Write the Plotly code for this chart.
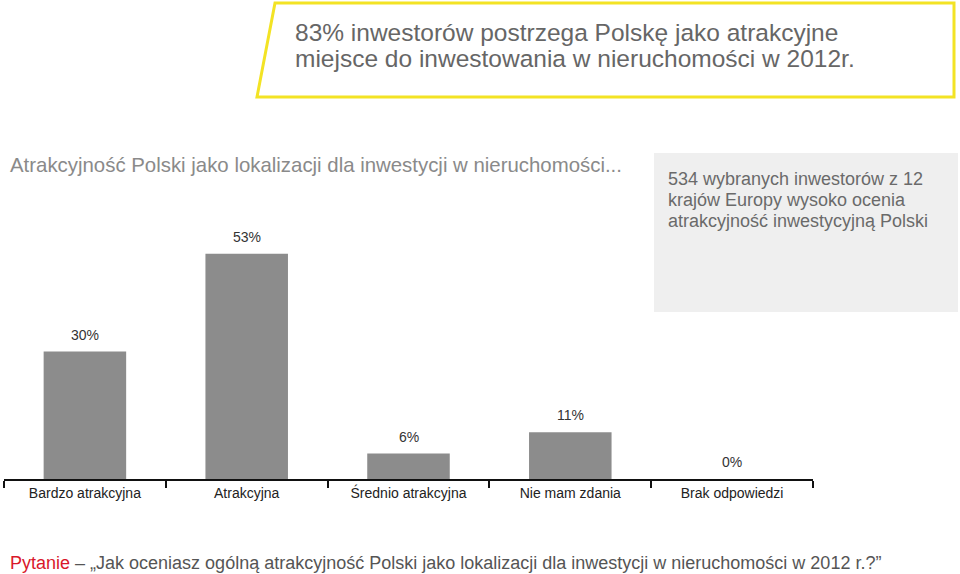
import plotly.graph_objects as go

categories = ["Bardzo atrakcyjna", "Atrakcyjna", "Średnio atrakcyjna", "Nie mam zdania", "Brak odpowiedzi"]
values = [30, 53, 6, 11, 0]
value_labels = ["30%", "53%", "6%", "11%", "0%"]

W, H = 960, 574
L, R, T, B = 4, 147, 224, 95
PW, PH = W - L - R, H - T - B

def px(x):
    return (x - L) / PW

def py(y):
    return (H - B - y) / PH

FONT = "Liberation Sans"

fig = go.Figure()
fig.add_trace(go.Bar(
    x=categories, y=values, width=0.51,
    marker=dict(color="#8c8c8c", line=dict(width=0)),
    hoverinfo="x+y",
))

shapes = [
    dict(type="path", xref="paper", yref="paper",
         path=f"M {px(275)} {py(3)} L {px(954)} {py(3)} L {px(954)} {py(97)} L {px(257)} {py(97)} Z",
         line=dict(color="#f3e324", width=3), fillcolor="white", layer="below"),
    dict(type="rect", xref="paper", yref="paper",
         x0=px(654), x1=px(958), y0=py(312), y1=py(153),
         line=dict(width=0), fillcolor="#efefef", layer="below"),
]

def txt(text, x, y, size, color, xanchor="left"):
    return dict(text=text, x=px(x), y=py(y), xref="paper", yref="paper",
                xanchor=xanchor, yanchor="middle", align="left", showarrow=False,
                font=dict(family=FONT, size=size, color=color))

annotations = [
    txt("83% inwestorów postrzega Polskę jako atrakcyjne", 293, 32, 24.5, "#666666"),
    txt("miejsce do inwestowania w nieruchomości w 2012r.", 293, 58, 24.5, "#666666"),
    txt("Atrakcyjność Polski jako lokalizacji dla inwestycji w nieruchomości...", 8, 165, 20.4, "#8a8a8a"),
    txt("534 wybranych inwestorów z 12", 666, 179, 18, "#6a6a6a"),
    txt("krajów Europy wysoko ocenia", 666, 200, 18, "#6a6a6a"),
    txt("atrakcyjność inwestycyjną Polski", 666, 221, 18, "#6a6a6a"),
    txt("<span style='color:#d9172a'>Pytanie</span> – „Jak oceniasz ogólną atrakcyjność Polski jako lokalizacji dla inwestycji w nieruchomości w 2012 r.?”",
        8, 563, 18, "#555555"),
]
for c, v, lab in zip(categories, values, value_labels):
    annotations.append(dict(text=lab, x=c, y=v, xref="x", yref="y", yanchor="bottom",
                            yshift=7, showarrow=False,
                            font=dict(family=FONT, size=14, color="#333333")))

fig.update_layout(
    width=W, height=H, margin=dict(l=L, r=R, t=T, b=B),
    paper_bgcolor="white", plot_bgcolor="white",
    showlegend=False, shapes=shapes, annotations=annotations,
    xaxis=dict(showline=True, linecolor="#111111", linewidth=2,
               ticks="outside", tickson="boundaries", ticklen=7, tickwidth=2, tickcolor="#111111",
               tickfont=dict(family=FONT, size=14, color="#222222"), showgrid=False, fixedrange=True),
    yaxis=dict(range=[0, 60], visible=False, showgrid=False, zeroline=False),
    font=dict(family=FONT),
)

fig.write_html("out.html", config={"displayModeBar": False},
               post_script="document.body.style.margin='0';document.body.style.padding='0';")
